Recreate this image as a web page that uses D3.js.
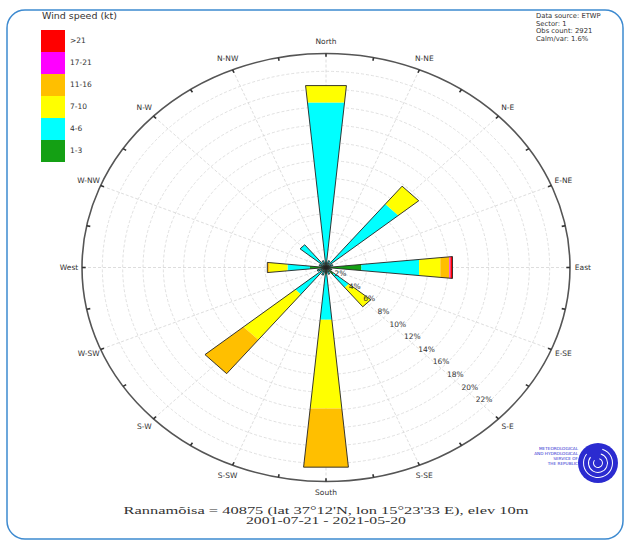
<!DOCTYPE html>
<html lang="en">
<head>
<meta charset="utf-8">
<title>Wind rose</title>
<style>
    body { margin: 0; background: #fff; }
    text { font-family: "DejaVu Sans", sans-serif; fill: #333; }
</style>
</head>
<body>
<svg id="rose" width="629" height="549"></svg>
<script src="https://d3js.org/d3.v7.min.js"></script>
<script>
    // 16 sectors, clockwise from north
    const directions = ["North", "N-NE", "N-E", "E-NE", "East", "E-SE", "S-E", "S-SE",
        "South", "S-SW", "S-W", "W-SW", "West", "W-NW", "N-W", "N-NW"]
    const speedClasses = ["1-3", "4-6", "7-10", "11-16", "17-21", ">21"]
    const classColors = ["#14a014", "#00ffff", "#ffff00", "#ffbf00", "#ff00ff", "#ff0000"]

    // frequency (%) per sector for each speed class
    const kt1_3 = [0.5, 0.3, 0.4, 0.3, 3.5, 0.3, 1.0, 0.3, 0.8, 0.3, 0.5, 0.3, 1.6, 0.3, 0.4, 0.3]
    const kt4_6 = [18.1, 0.5, 8.8, 0.4, 5.7, 0.3, 1.9, 0.5, 5.1, 0.6, 3.4, 0.6, 2.2, 0.4, 2.9, 0.5]
    const kt7_10 = [1.9, 0, 2.6, 0, 2.1, 0, 2.8, 0, 10.0, 0, 6.6, 0, 1.8, 0, 0, 0]
    const kt11_16 = [0, 0, 0, 0, 0.9, 0, 0, 0, 6.6, 0, 4.9, 0, 0.2, 0, 0, 0]
    const kt17_21 = [0, 0, 0, 0, 0.1, 0, 0, 0, 0, 0, 0, 0, 0, 0, 0, 0]
    const kt21plus = [0, 0, 0, 0, 0.2, 0, 0, 0, 0, 0, 0, 0, 0, 0, 0, 0]

    const rings = [2, 4, 6, 8, 10, 12, 14, 16, 18, 20, 22, 24]
    const ringLabels = ["2%", "4%", "6%", "8%", "10%", "12%", "14%", "16%", "18%", "20%", "22%"]

    const legendTitle = "Wind speed (kt)"
    const infoLines = ["Data source: ETWP", "Sector: 1", "Obs count: 2921", "Calm/var: 1.6%"]
    const titleLines = ["Rannamõisa = 40875 (lat 37°12'N, lon 15°23'33 E), elev 10m",
        "2001-07-21 - 2021-05-20"]
    const titleWidths = [405, 160]

    const svg = d3.select("#rose")
    const cx = 326, cy = 267.5
    const maxPct = 24

    const rX = d3.scaleLinear().domain([0, maxPct]).range([0, 244])
    const rY = d3.scaleLinear().domain([0, maxPct]).range([0, 214])
    const angle = d3.scaleLinear().domain([0, 16]).range([0, 2 * Math.PI])
    const half = angle(0.25)  // half width of a sector bar

    function pt(v, a) {
        return [cx + rX(v) * Math.sin(a), cy - rY(v) * Math.cos(a)]
    }

    // card border
    svg.append("rect")
        .attr("x", 7).attr("y", 10).attr("width", 616).attr("height", 529)
        .attr("rx", 18)
        .attr("fill", "none").attr("stroke", "#3d8ad0").attr("stroke-width", 1.5)

    // spokes
    svg.append("g").selectAll("line")
        .data(d3.range(16))
        .join("line")
        .attr("x1", cx).attr("y1", cy)
        .attr("x2", i => pt(maxPct, angle(i))[0])
        .attr("y2", i => pt(maxPct, angle(i))[1])
        .attr("stroke", "#d4d4d4").attr("stroke-width", 0.8)
        .attr("stroke-dasharray", "3,2")

    // rings
    svg.append("g").selectAll("ellipse")
        .data(rings.slice(0, -1))
        .join("ellipse")
        .attr("cx", cx).attr("cy", cy)
        .attr("rx", d => rX(d)).attr("ry", d => rY(d))
        .attr("fill", "none").attr("stroke", "#d8d8d8").attr("stroke-width", 0.8)
        .attr("stroke-dasharray", "3,2")

    svg.append("ellipse")
        .attr("cx", cx).attr("cy", cy)
        .attr("rx", rX(maxPct)).attr("ry", rY(maxPct))
        .attr("fill", "none").attr("stroke", "#555").attr("stroke-width", 1.6)

    // small ticks on the outer ring
    svg.append("g").selectAll("line")
        .data(d3.range(32))
        .join("line")
        .attr("x1", i => pt(maxPct, angle(i / 2))[0])
        .attr("y1", i => pt(maxPct, angle(i / 2))[1])
        .attr("x2", i => pt(maxPct * 0.985, angle(i / 2))[0])
        .attr("y2", i => pt(maxPct * 0.985, angle(i / 2))[1])
        .attr("stroke", "#333").attr("stroke-width", 1.6)

    // stacked sectors
    const rows = directions.map((d, i) => ({
        dir: d,
        "1-3": kt1_3[i], "4-6": kt4_6[i], "7-10": kt7_10[i],
        "11-16": kt11_16[i], "17-21": kt17_21[i], ">21": kt21plus[i]
    }))
    const series = d3.stack().keys(speedClasses)(rows)
    const line = d3.line()

    const bars = svg.append("g")
    series.forEach((s, k) => {
        bars.append("g").selectAll("path")
            .data(s.filter(d => d[1] - d[0] > 0))
            .join("path")
            .attr("d", d => {
                const a = angle(directions.indexOf(d.data.dir))
                return line([pt(d[0], a - half), pt(d[1], a - half), pt(d[1], a + half), pt(d[0], a + half)]) + "Z"
            })
            .attr("fill", classColors[k])
    })

    const totals = rows.map(r => d3.sum(speedClasses, k => r[k]))
    bars.append("g").selectAll("path")
        .data(totals)
        .join("path")
        .attr("d", (t, i) => {
            const a = angle(i)
            return line([[cx, cy], pt(t, a - half), pt(t, a + half)]) + "Z"
        })
        .attr("fill", "none").attr("stroke", "#222").attr("stroke-width", 0.9)

    svg.append("circle").attr("cx", cx).attr("cy", cy).attr("r", 1.5).attr("fill", "#222")

    // ring labels along the S-E radius
    svg.append("g").selectAll("text")
        .data(ringLabels)
        .join("text")
        .attr("x", (d, i) => pt(rings[i], angle(6))[0])
        .attr("y", (d, i) => pt(rings[i], angle(6))[1] - 4)
        .attr("text-anchor", "middle")
        .attr("font-size", 7.5)
        .text(d => d)

    // direction labels
    svg.append("g").selectAll("text")
        .data(directions)
        .join("text")
        .attr("x", (d, i) => pt(maxPct * 1.053, angle(i))[0])
        .attr("y", (d, i) => pt(maxPct * 1.053, angle(i))[1])
        .attr("text-anchor", "middle")
        .attr("dominant-baseline", "middle")
        .attr("font-size", 7.5)
        .text(d => d)

    // legend
    const legend = svg.append("g")
    legend.append("text").attr("x", 42).attr("y", 19).attr("font-size", 8)
        .attr("textLength", 75).attr("lengthAdjust", "spacingAndGlyphs")
        .text(legendTitle)
    const legendOrder = speedClasses.map((c, i) => i).reverse()
    legend.selectAll("rect")
        .data(legendOrder)
        .join("rect")
        .attr("x", 41).attr("y", (k, j) => 30 + j * 22)
        .attr("width", 24).attr("height", 22)
        .attr("fill", k => classColors[k])
    legend.selectAll("text.lab")
        .data(legendOrder)
        .join("text")
        .attr("class", "lab")
        .attr("x", 70).attr("y", (k, j) => 41 + j * 22)
        .attr("dominant-baseline", "middle")
        .attr("font-size", 7.5)
        .text(k => speedClasses[k])

    // info block top right
    svg.append("g").selectAll("text")
        .data(infoLines)
        .join("text")
        .attr("x", 536).attr("y", (d, i) => 18 + i * 7.5)
        .attr("font-size", 6.8)
        .text(d => d)

    // title below
    svg.append("g").selectAll("text")
        .data(titleLines)
        .join("text")
        .attr("x", cx).attr("y", (d, i) => 514 + i * 10)
        .attr("text-anchor", "middle")
        .attr("font-size", 9.5)
        .attr("textLength", (d, i) => titleWidths[i])
        .attr("lengthAdjust", "spacingAndGlyphs")
        .style("font-family", "'Liberation Serif', serif")
        .text(d => d)

    // logo
    const logo = svg.append("g").attr("transform", "translate(598,463)")
    logo.append("circle").attr("r", 20).attr("fill", "#2b2bd0")
    ;[5, 10, 15].forEach(r => {
        logo.append("path")
            .attr("d", d3.arc()({innerRadius: r - 1, outerRadius: r, startAngle: 0.3, endAngle: 2 * Math.PI - 0.9}))
            .attr("fill", "#fff")
    })
    logo.selectAll("text")
        .data(["METEOROLOGICAL", "AND HYDROLOGICAL", "SERVICE OF", "THE REPUBLIC"])
        .join("text")
        .attr("x", -20).attr("y", (d, i) => -13 + i * 5)
        .attr("text-anchor", "end")
        .attr("font-size", 4.2)
        .style("fill", "#2b2bd0")
        .text(d => d)
</script>
</body>
</html>
